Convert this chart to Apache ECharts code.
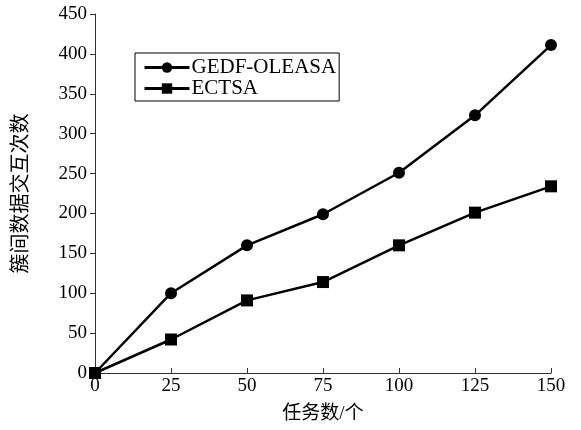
<!DOCTYPE html>
<html><head><meta charset="utf-8">
<script src="https://cdn.jsdelivr.net/npm/echarts@6/dist/echarts.min.js"></script>
<style>html,body{margin:0;padding:0;background:#fff}#c{width:581px;height:430px}</style>
</head><body><div id="c"></div>
<script>
const xValues = [0, 25, 50, 75, 100, 125, 150];
const gedf = [0, 100, 160, 199, 251, 323, 411];
const ectsa = [0, 42, 91, 114, 160, 201, 234];
const seriesNames = ['GEDF-OLEASA', 'ECTSA'];
const xName = '任务数/个';
const yName = '簇间数据交互次数';
const font = 'Liberation Serif, "Noto Sans CJK SC", serif';
const chart = echarts.init(document.getElementById('c'), null, {renderer: 'canvas'});
chart.setOption({
  animation: false,
  backgroundColor: '#fff',
  grid: {left: 95, right: 30, top: 14, bottom: 57, containLabel: false},
  legend: {
    orient: 'vertical', left: 135, top: 53,
    borderColor: '#000', borderWidth: 1, padding: [4, 3, 2, 8],
    itemWidth: 45, itemHeight: 13, itemGap: 0,
    lineStyle: {width: 3},
    textStyle: {fontFamily: font, fontSize: 21, color: '#000', padding: [0, 0, 0, -3]},
    data: seriesNames
  },
  xAxis: {
    type: 'value', min: 0, max: 150, interval: 25,
    name: xName, nameLocation: 'middle', nameGap: 32,
    nameTextStyle: {fontFamily: font, fontSize: 19, color: '#000'},
    axisLine: {show: true, lineStyle: {color: '#333', width: 1}},
    axisTick: {show: true, inside: true, length: 5, lineStyle: {color: '#333'}},
    axisLabel: {fontFamily: font, fontSize: 19, color: '#000', margin: 4},
    splitLine: {show: false}
  },
  yAxis: {
    type: 'value', min: 0, max: 450, interval: 50,
    name: yName, nameLocation: 'middle', nameGap: 63, nameRotate: 90,
    nameTextStyle: {fontFamily: font, fontSize: 20, color: '#000'},
    axisLine: {show: true, lineStyle: {color: '#333', width: 1}},
    axisTick: {show: true, inside: false, length: 5, lineStyle: {color: '#333'}},
    axisLabel: {fontFamily: font, fontSize: 19, color: '#000', margin: 8},
    splitLine: {show: false}
  },
  series: [
    {name: seriesNames[0], type: 'line', data: xValues.map((x, i) => [x, gedf[i]]),
     symbol: 'circle', symbolSize: 12, itemStyle: {color: '#000'},
     lineStyle: {color: '#000', width: 2.5}},
    {name: seriesNames[1], type: 'line', data: xValues.map((x, i) => [x, ectsa[i]]),
     symbol: 'rect', symbolSize: 12, itemStyle: {color: '#000'},
     lineStyle: {color: '#000', width: 2.5}}
  ]
});
</script></body></html>
